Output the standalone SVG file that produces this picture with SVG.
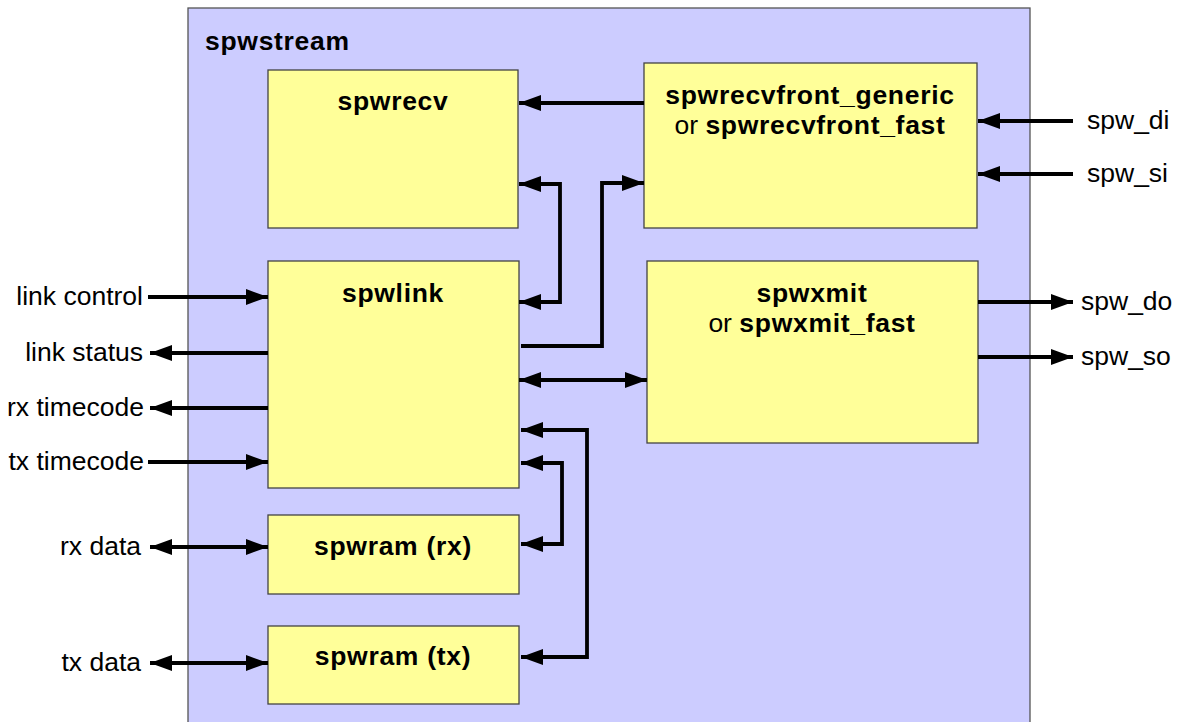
<svg xmlns="http://www.w3.org/2000/svg" width="1179" height="722" viewBox="0 0 1179 722">
<defs>
<style>
.outer{fill:#ccccff;stroke:#555;stroke-width:1.3}
.blk{fill:#ffff99;stroke:#444;stroke-width:1.3}
.t{font-family:"Liberation Sans",Arial,sans-serif;font-size:26.5px;fill:#000}
.b{font-weight:bold;letter-spacing:0.7px}
.n{font-weight:normal;letter-spacing:0}
.c{text-anchor:middle}
.r{text-anchor:end}
.w{fill:none;stroke:#000;stroke-width:3.8;stroke-linejoin:miter}
</style>
<marker id="ah" viewBox="0 0 22 16" refX="22" refY="8" markerWidth="22" markerHeight="16" markerUnits="userSpaceOnUse" orient="auto-start-reverse">
<path d="M0,0 L22,8 L0,16 Z" fill="#000"/>
</marker>
</defs>
<rect width="1179" height="722" fill="#fff"/>
<g id="spwstream">
<rect class="outer" x="188" y="8" width="842" height="730"/>
<text class="t b" x="205" y="50">spwstream</text>
</g>
<g id="spwrecv">
<rect class="blk" x="268" y="70" width="250" height="158"/>
<text class="t b c" x="393" y="110">spwrecv</text>
</g>
<g id="spwrecvfront">
<rect class="blk" x="644" y="63" width="333" height="165"/>
<text class="t b c" x="810" y="104">spwrecvfront_generic</text>
<text class="t c" x="810" y="134"><tspan class="n">or </tspan><tspan class="b">spwrecvfront_fast</tspan></text>
</g>
<g id="spwlink">
<rect class="blk" x="268" y="261" width="251" height="227"/>
<text class="t b c" x="393" y="302">spwlink</text>
</g>
<g id="spwxmit">
<rect class="blk" x="647" y="261" width="331" height="182"/>
<text class="t b c" x="812" y="302">spwxmit</text>
<text class="t c" x="812" y="332"><tspan class="n">or </tspan><tspan class="b">spwxmit_fast</tspan></text>
</g>
<g id="spwram_rx">
<rect class="blk" x="268" y="515" width="251" height="79"/>
<text class="t b c" x="393" y="555">spwram (rx)</text>
</g>
<g id="spwram_tx">
<rect class="blk" x="268" y="626" width="251" height="78"/>
<text class="t b c" x="393" y="665">spwram (tx)</text>
</g>
<g id="labels">
<text class="t r" x="143" y="305">link control</text>
<text class="t r" x="143" y="361">link status</text>
<text class="t r" x="144" y="416">rx timecode</text>
<text class="t r" x="144" y="470">tx timecode</text>
<text class="t r" x="141" y="555">rx data</text>
<text class="t r" x="141" y="671">tx data</text>
<text class="t" x="1087" y="129">spw_di</text>
<text class="t" x="1087" y="182">spw_si</text>
<text class="t" x="1081" y="310">spw_do</text>
<text class="t" x="1081" y="365">spw_so</text>
</g>
<g id="connectors">
<path class="w" d="M644,103 H519" marker-end="url(#ah)"/>
<path class="w" d="M519,184 H560 V302 H519" marker-start="url(#ah)" marker-end="url(#ah)"/>
<path class="w" d="M521,346 H602 V183 H644" marker-end="url(#ah)"/>
<path class="w" d="M519,380 H647" marker-start="url(#ah)" marker-end="url(#ah)"/>
<path class="w" d="M521,430 H587 V657 H521" marker-start="url(#ah)" marker-end="url(#ah)"/>
<path class="w" d="M521,463 H562 V544 H521" marker-start="url(#ah)" marker-end="url(#ah)"/>
<path class="w" d="M148,297 H268" marker-end="url(#ah)"/>
<path class="w" d="M268,353 H150" marker-end="url(#ah)"/>
<path class="w" d="M268,408 H150" marker-end="url(#ah)"/>
<path class="w" d="M148,462 H268" marker-end="url(#ah)"/>
<path class="w" d="M150,547 H268" marker-start="url(#ah)" marker-end="url(#ah)"/>
<path class="w" d="M150,663 H268" marker-start="url(#ah)" marker-end="url(#ah)"/>
<path class="w" d="M1073,121 H978" marker-end="url(#ah)"/>
<path class="w" d="M1073,174 H978" marker-end="url(#ah)"/>
<path class="w" d="M978,302 H1073" marker-end="url(#ah)"/>
<path class="w" d="M978,357 H1073" marker-end="url(#ah)"/>
</g>
</svg>
